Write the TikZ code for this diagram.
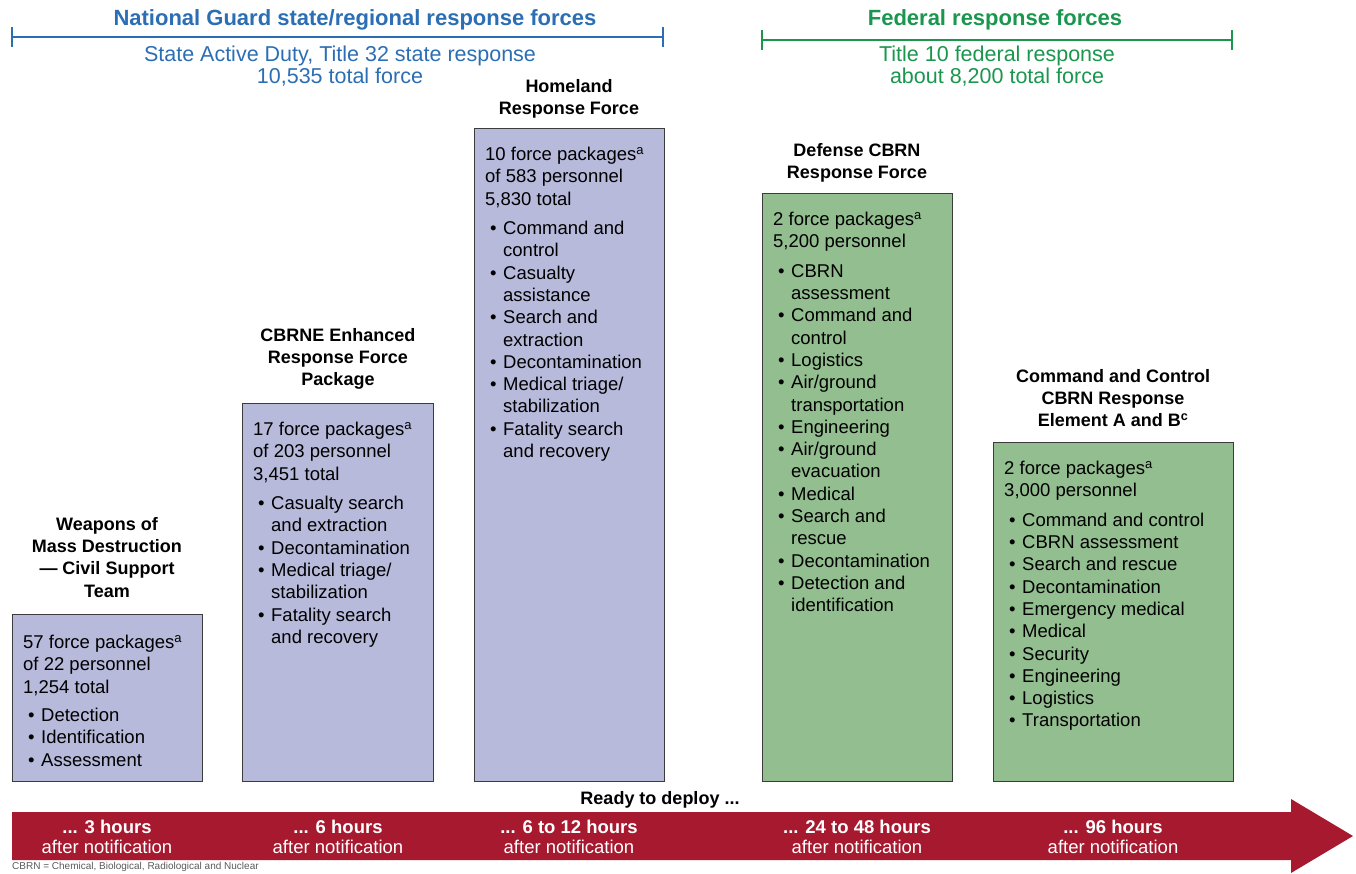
\documentclass[tikz,border=0pt]{standalone}
\usepackage{fontspec}
\setmainfont{Liberation Sans}
\definecolor{ngblue}{RGB}{43,110,180}
\definecolor{fedgreen}{RGB}{26,150,78}
\definecolor{purplebox}{RGB}{183,186,219}
\definecolor{greenbox}{RGB}{147,190,143}
\definecolor{arrowred}{RGB}{166,25,46}
\definecolor{boxline}{RGB}{60,60,60}
\definecolor{footgray}{RGB}{90,90,90}
\newcommand{\bl}{\hspace*{5pt}\makebox[13pt][l]{•}}
\newcommand{\cl}{\hspace*{18pt}}
\begin{document}
\begin{tikzpicture}[x=1pt,y=-1pt,
  forcebox/.style={draw=boxline, line width=1.2pt, inner sep=0pt, anchor=north west},
  pbox/.style={forcebox, fill=purplebox},
  gbox/.style={forcebox, fill=greenbox},
  boxtext/.style={anchor=north west, inner sep=0pt, align=left, font=\fontsize{18.5}{22.3}\selectfont},
  boxtitle/.style={anchor=north, inner sep=0pt, align=center, font=\fontsize{18}{22.3}\selectfont\bfseries},
  grouptitle/.style={inner sep=0pt, font=\fontsize{22}{26}\selectfont\bfseries},
  groupsub/.style={inner sep=0pt, align=center, font=\fontsize{21.5}{22}\selectfont},
  bracket/.style={line width=2pt},
  timelabel/.style={inner sep=0pt, align=center, text=white, font=\fontsize{18.5}{20}\selectfont}
]
\useasboundingbox (0,0) rectangle (1356,873);

% ---------- group brackets ----------
\coordinate (nga) at (12,37);
\coordinate (ngb) at (663,37);
\draw[ngblue, bracket] (nga) -- (ngb);
\draw[ngblue, bracket] ([yshift=10pt]nga) -- ([yshift=-10pt]nga);
\draw[ngblue, bracket] ([yshift=10pt]ngb) -- ([yshift=-10pt]ngb);
\node[grouptitle, text=ngblue] (ngtitle) at (355,20) {National Guard state/regional response forces};
\node[groupsub, text=ngblue] (ngsub) at (340,66) {State Active Duty, Title 32 state response\\10,535 total force};

\coordinate (fda) at (762,40);
\coordinate (fdb) at (1232,40);
\draw[fedgreen, bracket] (fda) -- (fdb);
\draw[fedgreen, bracket] ([yshift=10pt]fda) -- ([yshift=-10pt]fda);
\draw[fedgreen, bracket] ([yshift=10pt]fdb) -- ([yshift=-10pt]fdb);
\node[grouptitle, text=fedgreen] (fdtitle) at (995,20) {Federal response forces};
\node[groupsub, text=fedgreen] (fdsub) at (997,66) {Title 10 federal response\\about 8,200 total force};

% ---------- boxes ----------
\node[pbox, minimum width=190pt, minimum height=167pt] (wmd) at (12,614) {};
\node[pbox, minimum width=191pt, minimum height=378pt] (cbrne) at (242,403) {};
\node[pbox, minimum width=190pt, minimum height=653pt] (hrf) at (474,128) {};
\node[gbox, minimum width=190pt, minimum height=588pt] (dcrf) at (762,193) {};
\node[gbox, minimum width=240pt, minimum height=339pt] (c2cre) at (993,442) {};

% ---------- titles ----------
\node[boxtitle] (wmdtitle) at (107,517) {Weapons of\\Mass Destruction\\— Civil Support\\Team};
\node[boxtitle] (cbrnetitle) at (338,328) {CBRNE Enhanced\\Response Force\\Package};
\node[boxtitle] (hrftitle) at (569,79) {Homeland\\Response Force};
\node[boxtitle] (dcrftitle) at (857,143) {Defense CBRN\\Response Force};
\node[boxtitle] (c2title) at (1113,369) {Command and Control\\CBRN Response\\Element A and B\textsuperscript{c}};

% ---------- box contents ----------
\node[boxtext] (wmdtxt) at ([xshift=11pt,yshift=-21pt]wmd.north west) {%
57 force packages\textsuperscript{a}\\
of 22 personnel\\
1,254 total\\[6pt]
\bl Detection\\
\bl Identification\\
\bl Assessment};

\node[boxtext] (cbrnetxt) at ([xshift=11pt,yshift=-19pt]cbrne.north west) {%
17 force packages\textsuperscript{a}\\
of 203 personnel\\
3,451 total\\[7pt]
\bl Casualty search\\
\cl and extraction\\
\bl Decontamination\\
\bl Medical triage/\\
\cl stabilization\\
\bl Fatality search\\
\cl and recovery};

\node[boxtext] (hrftxt) at ([xshift=11pt,yshift=-19pt]hrf.north west) {%
10 force packages\textsuperscript{a}\\
of 583 personnel\\
5,830 total\\[7pt]
\bl Command and\\
\cl control\\
\bl Casualty\\
\cl assistance\\
\bl Search and\\
\cl extraction\\
\bl Decontamination\\
\bl Medical triage/\\
\cl stabilization\\
\bl Fatality search\\
\cl and recovery};

\node[boxtext] (dcrftxt) at ([xshift=11pt,yshift=-19pt]dcrf.north west) {%
2 force packages\textsuperscript{a}\\
5,200 personnel\\[7pt]
\bl CBRN\\
\cl assessment\\
\bl Command and\\
\cl control\\
\bl Logistics\\
\bl Air/ground\\
\cl transportation\\
\bl Engineering\\
\bl Air/ground\\
\cl evacuation\\
\bl Medical\\
\bl Search and\\
\cl rescue\\
\bl Decontamination\\
\bl Detection and\\
\cl identification};

\node[boxtext] (c2txt) at ([xshift=11pt,yshift=-19pt]c2cre.north west) {%
2 force packages\textsuperscript{a}\\
3,000 personnel\\[7pt]
\bl Command and control\\
\bl CBRN assessment\\
\bl Search and rescue\\
\bl Decontamination\\
\bl Emergency medical\\
\bl Medical\\
\bl Security\\
\bl Engineering\\
\bl Logistics\\
\bl Transportation};

% ---------- timeline arrow ----------
\fill[arrowred] (12,812) -- (1291,812) -- (1291,799) -- (1353,836) -- (1291,873) -- (1291,860) -- (12,860) -- cycle;
\node[inner sep=0pt, font=\fontsize{18}{20}\selectfont\bfseries] (ready) at (660,800) {Ready to deploy ...};
\node[timelabel] (t1) at (107,837) {\textbf{... 3 hours}\\after notification};
\node[timelabel] (t2) at (338,837) {\textbf{... 6 hours}\\after notification};
\node[timelabel] (t3) at (569,837) {\textbf{... 6 to 12 hours}\\after notification};
\node[timelabel] (t4) at (857,837) {\textbf{... 24 to 48 hours}\\after notification};
\node[timelabel] (t5) at (1113,837) {\textbf{... 96 hours}\\after notification};

% ---------- footnote ----------
\node[anchor=north west, inner sep=0pt, text=footgray, font=\fontsize{10}{11}\selectfont] (foot) at (12,862.5) {CBRN = Chemical, Biological, Radiological and Nuclear};
\end{tikzpicture}
\end{document}
